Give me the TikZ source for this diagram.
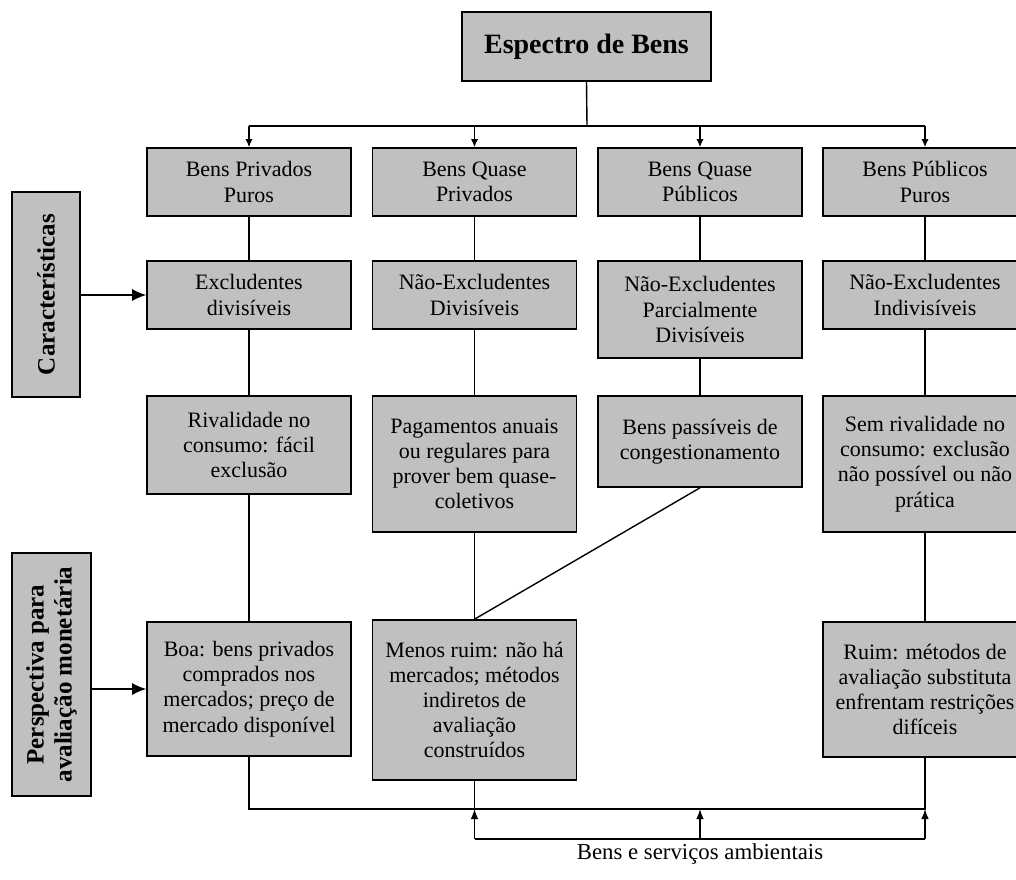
\documentclass[tikz,border=0pt]{standalone}
\usepackage{fontspec}
\setmainfont{Liberation Serif}
\usetikzlibrary{arrows.meta}
\definecolor{boxgray}{HTML}{C0C0C0}
\tikzset{
  box/.style={draw=black, line width=0.8pt, fill=boxgray, align=center, inner sep=0pt,
    minimum width=102pt, font=\fontsize{11}{12.6}\selectfont},
  sidebox/.style={draw=black, line width=0.8pt, fill=boxgray, align=center, inner sep=0pt,
    rotate=90, font=\fontsize{12.5}{14}\selectfont\bfseries},
  conn/.style={line width=0.7pt},
  arrtop/.style={conn, -{Latex[length=4pt,width=3.6pt]}},
  arrbot/.style={conn, -{Latex[length=5pt,width=3.8pt]}},
  arrbig/.style={conn, -{Latex[length=7pt,width=6pt]}}
}
\begin{document}
\begin{tikzpicture}[x=0.5pt, y=-0.5pt]
\path[use as bounding box, clip] (0,0) rectangle (1016,879);

% title
\node[box, minimum width=124.5pt, minimum height=34.5pt, font=\fontsize{14}{16}\selectfont\bfseries] (top) at (586.5,46.5) {Espectro de Bens};

% row 1
\node[box, minimum height=34pt] (a1) at (249,182) {Bens Privados\\Puros};
\node[box, minimum height=34pt] (b1) at (474.5,182) {Bens Quase\\Privados};
\node[box, minimum height=34pt] (c1) at (700,182) {Bens Quase\\Públicos};
\node[box, minimum height=34pt] (d1) at (925,182) {Bens Públicos\\Puros};

% row 2
\node[box, minimum height=34pt] (a2) at (249,295) {Excludentes\\divisíveis};
\node[box, minimum height=34pt] (b2) at (474.5,295) {Não-Excludentes\\Divisíveis};
\node[box, minimum height=48.5pt] (c2) at (700,309.5) {Não-Excludentes\\Parcialmente\\Divisíveis};
\node[box, minimum height=34pt] (d2) at (925,295) {Não-Excludentes\\Indivisíveis};

% row 3
\node[box, minimum height=49pt] (a3) at (249,445) {Rivalidade no\\consumo: fácil\\exclusão};
\node[box, minimum height=68pt] (b3) at (474.5,464) {Pagamentos anuais\\ou regulares para\\prover bem quase-\\coletivos};
\node[box, minimum height=45.5pt] (c3) at (700,441.5) {Bens passíveis de\\congestionamento};
\node[box, minimum height=68pt] (d3) at (925,464) {Sem rivalidade no\\consumo: exclusão\\não possível ou não\\prática};

% row 4
\node[box, minimum height=67pt] (a4) at (249,689) {Boa: bens privados\\comprados nos\\mercados; preço de\\mercado disponível};
\node[box, minimum height=80pt] (b4) at (474.5,700) {Menos ruim: não há\\mercados; métodos\\indiretos de\\avaliação\\construídos};
\node[box, minimum height=67.5pt] (d4) at (925,689.5) {Ruim: métodos de\\avaliação substituta\\enfrentam restrições\\difíceis};

% side boxes
\node[sidebox, minimum width=102.5pt, minimum height=34pt] (car) at (46,294.5) {Características};
\node[sidebox, minimum width=121.5pt, minimum height=39.5pt] (persp) at (51.5,674.5) {Perspectiva para\\avaliação monetária};

% bottom label
\node[anchor=base, inner sep=0pt, font=\fontsize{11.4}{13}\selectfont] (env) at (700,859) {Bens e serviços ambientais};

% top distribution
\coordinate (hub) at (587,126);
\draw[conn] (top.south) -- (hub);
\draw[conn] (a1.north |- hub) -- (d1.north |- hub);
\draw[arrtop] (a1.north |- hub) -- (a1.north);
\draw[arrtop] (b1.north |- hub) -- (b1.north);
\draw[arrtop] (c1.north |- hub) -- (c1.north);
\draw[arrtop] (d1.north |- hub) -- (d1.north);

% columns
\draw[conn] (a1) -- (a2); \draw[conn] (a2) -- (a3); \draw[conn] (a3) -- (a4);
\draw[conn] (b1) -- (b2); \draw[conn] (b2) -- (b3); \draw[conn] (b3) -- (b4);
\draw[conn] (c1) -- (c2); \draw[conn] (c2) -- (c3); \draw[conn] (c3.south) -- (b4.north);
\draw[conn] (d1) -- (d2); \draw[conn] (d2) -- (d3); \draw[conn] (d3) -- (d4);

% side arrows
\draw[arrbig] (car.south |- a2.west) -- (a2.west);
\draw[arrbig] (persp.south |- a4.west) -- (a4.west);

% bottom collection
\coordinate (bus) at (0,809);
\coordinate (low) at (0,839);
\draw[conn] (a4.south) -- (a4.south |- bus) -- (d4.south |- bus) -- (d4.south);
\draw[conn] (b4.south) -- (b4.south |- bus);
\draw[conn] (b4.south |- low) -- (d4.south |- low);
\draw[arrbot] (b4.south |- low) -- (b4.south |- bus);
\draw[arrbot] (c3.south |- low) -- (c3.south |- bus);
\draw[arrbot] (d4.south |- low) -- (d4.south |- bus);
\end{tikzpicture}
\end{document}
